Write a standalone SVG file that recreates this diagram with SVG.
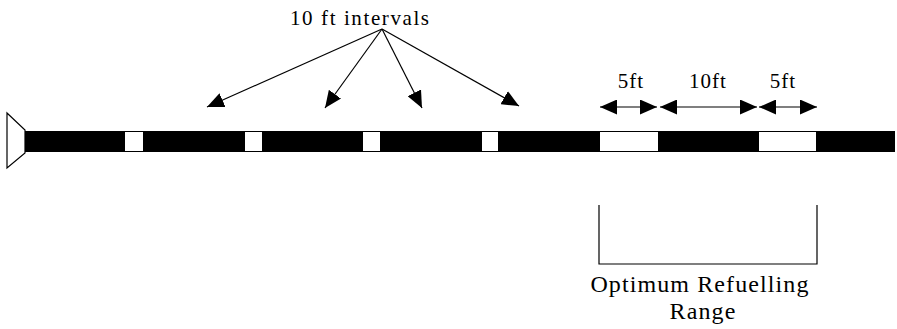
<svg xmlns="http://www.w3.org/2000/svg" width="897" height="329" viewBox="0 0 897 329">
  <style>
    .lbl { font-family: "Liberation Serif", "Times New Roman", serif; fill: #000; }
    .ln { stroke: #000; stroke-width: 1.2; fill: none; }
    .gap { fill: #fff; }
  </style>
  <defs>
    <marker id="head" viewBox="0 0 17 15" refX="17" refY="7.5" markerWidth="17" markerHeight="15" markerUnits="userSpaceOnUse" orient="auto-start-reverse">
      <path d="M0,0 L17,7.5 L0,15 Z" fill="#000"/>
    </marker>
  </defs>
  <rect width="897" height="329" fill="#fff"/>

  <!-- hose with nozzle -->
  <g id="hose">
    <polygon points="7,113 25,130 25,153 7,168" fill="#fff" stroke="#000" stroke-width="1.2"/>
    <rect x="25" y="131" width="870" height="21" fill="#000"/>
    <rect class="gap" x="125" y="132" width="18" height="19"/>
    <rect class="gap" x="245" y="132" width="17" height="19"/>
    <rect class="gap" x="363" y="132" width="17" height="19"/>
    <rect class="gap" x="482" y="132" width="16" height="19"/>
    <rect class="gap" x="600" y="132" width="58" height="19"/>
    <rect class="gap" x="759" y="132" width="57" height="19"/>
  </g>

  <!-- interval label -->
  <g id="intervals-label">
    <text class="lbl" x="290" y="25" font-size="21" letter-spacing="1.6">10 ft intervals</text>
  </g>

  <!-- dimension labels -->
  <g id="dim-labels">
    <text class="lbl" x="631" y="88" font-size="21" text-anchor="middle" letter-spacing="1">5ft</text>
    <text class="lbl" x="708" y="88" font-size="21" text-anchor="middle" letter-spacing="1">10ft</text>
    <text class="lbl" x="783" y="88" font-size="21" text-anchor="middle" letter-spacing="1">5ft</text>
  </g>

  <!-- refuelling range bracket -->
  <g id="range">
    <polyline class="ln" points="599,205 599,264 817,264 817,205" stroke-width="1.5"/>
    <text class="lbl" x="700" y="292" font-size="24" text-anchor="middle" letter-spacing="1.1">Optimum Refuelling</text>
    <text class="lbl" x="703" y="319" font-size="24" text-anchor="middle" letter-spacing="1.1">Range</text>
  </g>

  <!-- connectors -->
  <g id="connectors">
    <line class="ln" x1="382" y1="29" x2="207" y2="107" marker-end="url(#head)"/>
    <line class="ln" x1="382" y1="29" x2="325" y2="108" marker-end="url(#head)"/>
    <line class="ln" x1="382" y1="29" x2="422" y2="108" marker-end="url(#head)"/>
    <line class="ln" x1="382" y1="29" x2="519" y2="106" marker-end="url(#head)"/>
    <line class="ln" x1="600" y1="107" x2="657" y2="107" marker-start="url(#head)" marker-end="url(#head)"/>
    <line class="ln" x1="660" y1="107" x2="757" y2="107" marker-start="url(#head)" marker-end="url(#head)"/>
    <line class="ln" x1="759" y1="107" x2="817" y2="107" marker-start="url(#head)" marker-end="url(#head)"/>
  </g>
</svg>
